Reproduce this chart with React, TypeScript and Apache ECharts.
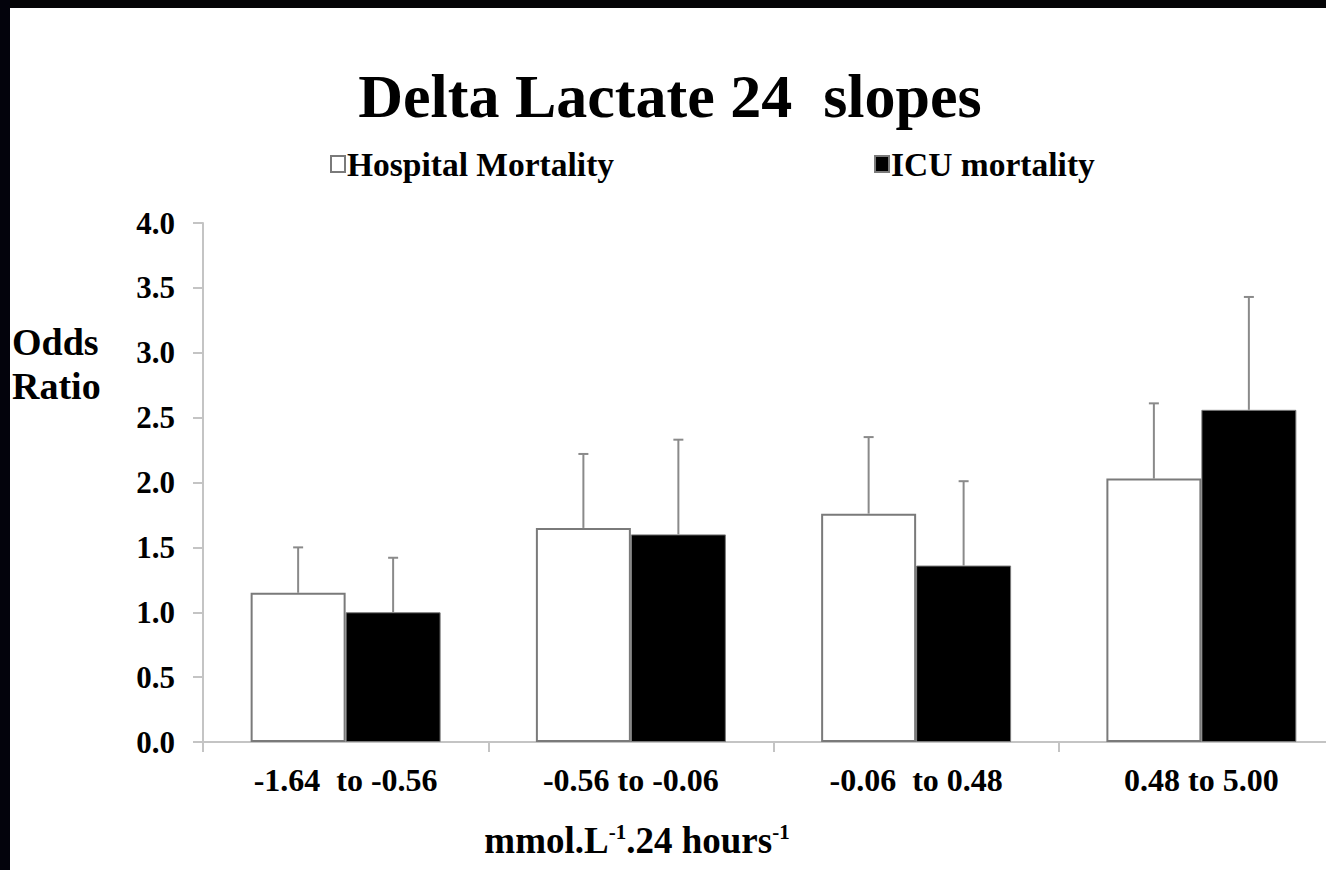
import React, { useEffect, useRef } from "react";
import * as echarts from "echarts";

const categories = ["-1.64  to -0.56", "-0.56 to -0.06", "-0.06  to 0.48", "0.48 to 5.00"];
const hospitalOR = [1.15, 1.65, 1.76, 2.03];
const hospitalUpper = [1.5, 2.22, 2.35, 2.61];
const icuOR = [1.0, 1.6, 1.36, 2.56];
const icuUpper = [1.42, 2.33, 2.01, 3.43];
const yTicks = [0, 0.5, 1, 1.5, 2, 2.5, 3, 3.5, 4];

const SERIF = "'Liberation Serif', 'Times New Roman', serif";
const GAP = 0.334;
// The drawing surface runs a little past the right edge of the window,
// so the last category is cut off the same way as on the slide.
const W = 1344;
const H = 870;

function errorBars(name: string, values: number[], uppers: number[], side: number) {
  return {
    name: name + " CI",
    type: "custom",
    silent: true,
    z: 5,
    data: values.map((v, i) => [i, v, uppers[i]]),
    renderItem: (_params: any, api: any) => {
      const idx = api.value(0);
      const base = api.coord([idx, api.value(1)]);
      const top = api.coord([idx, api.value(2)]);
      const catW = api.size([1, 0])[0];
      const bw = (catW * (1 - GAP)) / 2;
      const x = base[0] + (side * bw) / 2;
      const style = { stroke: "#8a8a8a", lineWidth: 2 };
      return {
        type: "group",
        children: [
          { type: "line", shape: { x1: x, y1: base[1], x2: x, y2: top[1] }, style },
          { type: "line", shape: { x1: x - 5, y1: top[1], x2: x + 5, y2: top[1] }, style },
        ],
      };
    },
  };
}

export default function App() {
  const ref = useRef<HTMLDivElement>(null);

  useEffect(() => {
    const chart = echarts.init(ref.current!, null, { renderer: "svg" });
    chart.setOption({
      animation: false,
      backgroundColor: "#ffffff",
      title: {
        text: "Delta Lactate 24  slopes",
        left: 665,
        textAlign: "center",
        top: 60,
        textStyle: { fontFamily: SERIF, fontWeight: "bold", fontSize: 62, color: "#000" },
      },
      legend: {
        left: 325,
        top: 142,
        itemWidth: 14,
        itemHeight: 16,
        itemGap: 260,
        icon: "rect",
        data: ["Hospital Mortality", "ICU mortality"],
        textStyle: { fontFamily: SERIF, fontWeight: "bold", fontSize: 33.5, color: "#000", padding: [0, 0, 0, -3] },
      },
      grid: { left: 203, top: 223, bottom: 128, right: 0, containLabel: false },
      xAxis: {
        type: "category",
        data: categories,
        axisLine: { lineStyle: { color: "#c4c4c4", width: 2 } },
        axisTick: { show: true, length: 10, lineStyle: { color: "#c4c4c4", width: 2 } },
        axisLabel: {
          margin: 22,
          fontFamily: SERIF,
          fontWeight: "bold",
          fontSize: 32,
          color: "#000",
        },
      },
      yAxis: {
        type: "value",
        min: 0,
        max: 4,
        interval: 0.5,
        splitLine: { show: false },
        axisLine: { show: true, lineStyle: { color: "#c4c4c4", width: 2 } },
        axisTick: { show: true, length: 10, lineStyle: { color: "#c4c4c4", width: 2 } },
        axisLabel: {
          margin: 28,
          fontFamily: SERIF,
          fontWeight: "bold",
          fontSize: 31,
          color: "#000",
          formatter: (v: number) => (yTicks.includes(v) ? v.toFixed(1) : ""),
        },
      },
      series: [
        {
          name: "Hospital Mortality",
          type: "bar",
          data: hospitalOR,
          barGap: "0%",
          barCategoryGap: GAP * 100 + "%",
          itemStyle: { color: "#ffffff", borderColor: "#7a7a7a", borderWidth: 2 },
        },
        {
          name: "ICU mortality",
          type: "bar",
          data: icuOR,
          itemStyle: { color: "#000000", borderColor: "#7a7a7a", borderWidth: 1 },
        },
        errorBars("Hospital Mortality", hospitalOR, hospitalUpper, -1),
        errorBars("ICU mortality", icuOR, icuUpper, 1),
      ],
      graphic: [
        { type: "rect", shape: { x: 0, y: 0, width: W, height: 8 }, style: { fill: "#050507" }, z: 100 },
        { type: "rect", shape: { x: 0, y: 0, width: 10, height: H }, style: { fill: "#03030c" }, z: 100 },
        {
          type: "text",
          left: 12,
          top: 320,
          style: {
            text: "Odds\nRatio",
            fontFamily: SERIF,
            fontWeight: "bold",
            fontSize: 38,
            lineHeight: 44,
            fill: "#000",
          },
        },
        {
          type: "text",
          x: 637,
          y: 840,
          style: {
            text: "{b|mmol.L}{s|-1}{b|.24 hours}{s|-1}",
            align: "center",
            verticalAlign: "middle",
            rich: {
              b: { fontFamily: SERIF, fontWeight: "bold", fontSize: 37, fill: "#000", verticalAlign: "bottom" },
              s: { fontFamily: SERIF, fontWeight: "bold", fontSize: 21, fill: "#000", verticalAlign: "top" },
            },
          },
        },
      ],
    });
    return () => chart.dispose();
  }, []);

  return (
    <div
      ref={ref}
      style={{ position: "fixed", left: 0, top: 0, width: W, height: H, background: "#fff" }}
    />
  );
}
